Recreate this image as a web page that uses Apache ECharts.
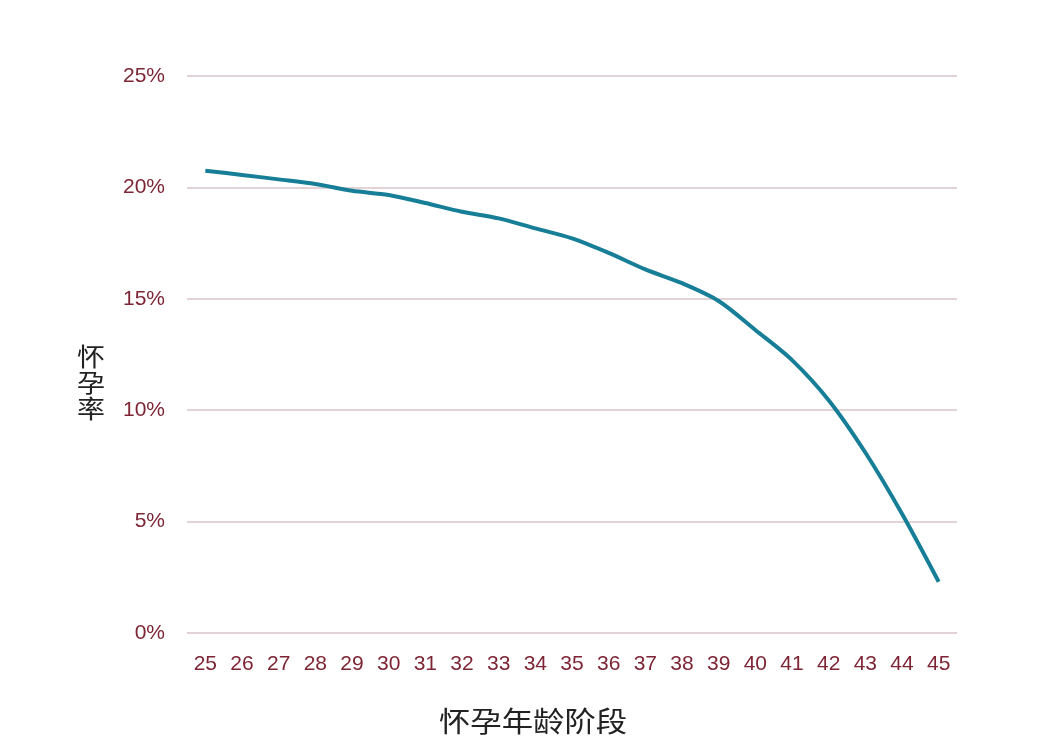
<!DOCTYPE html>
<html>
<head>
<meta charset="utf-8">
<script src="https://cdn.jsdelivr.net/npm/echarts@6/dist/echarts.min.js"></script>
<style>html,body{margin:0;padding:0;background:#fff;}#c{width:1044px;height:744px;}</style>
</head>
<body>
<div id="c"></div>
<script>
const ages = ['25','26','27','28','29','30','31','32','33','34','35','36','37','38','39','40','41','42','43','44','45'];
const rates = [20.75, 20.56, 20.36, 20.15, 19.85, 19.66, 19.3, 18.91, 18.61, 18.16, 17.71, 17.06, 16.32, 15.7, 14.9, 13.6, 12.25, 10.45, 8.1, 5.35, 2.3];
const xName = '怀孕年龄阶段';
const yName = '怀孕率';

const chart = echarts.init(document.getElementById('c'));
chart.setOption({
  animation: false,
  backgroundColor: '#fff',
  grid: { left: 187, right: 87, top: 76, bottom: 111 },
  xAxis: {
    type: 'category',
    data: ages,
    boundaryGap: true,
    axisLine: { show: false },
    axisTick: { show: false },
    axisLabel: { color: '#7d2535', fontSize: 21, margin: 21, fontFamily: 'Liberation Sans, Arial, sans-serif' }
  },
  yAxis: {
    type: 'value',
    min: 0, max: 25, interval: 5,
    axisLine: { show: false },
    axisTick: { show: false },
    axisLabel: { formatter: '{value}%', color: '#7d2535', fontSize: 21, margin: 22, fontFamily: 'Liberation Sans, Arial, sans-serif' },
    splitLine: { lineStyle: { color: '#e3d3d6', width: 2 } }
  },
  graphic: [
    { type: 'text', x: 77, y: 343, scaleX: 1.12, style: { text: yName.split('').join('\n'), fontSize: 25, lineHeight: 26, fill: '#222', fontFamily: 'Noto Sans CJK SC, sans-serif' } },
    { type: 'text', x: 439, y: 707, scaleX: 1.12, style: { text: xName, fontSize: 28, fill: '#222', fontFamily: 'Noto Sans CJK SC, sans-serif' } }
  ],
  series: [{
    type: 'line',
    data: rates,
    smooth: 0.3,
    symbol: 'none',
    lineStyle: { color: '#177e98', width: 4 }
  }]
});
</script>
</body>
</html>
